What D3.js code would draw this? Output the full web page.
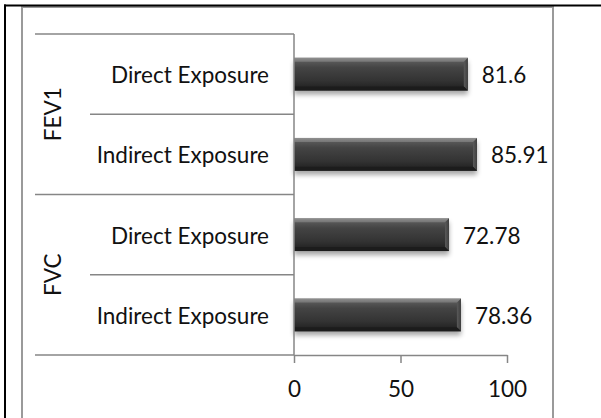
<!DOCTYPE html>
<html>
<head>
<meta charset="utf-8">
<script src="https://cdn.jsdelivr.net/npm/d3@7"></script>
<style>
  html, body { margin: 0; padding: 0; background: #fff; }
  svg { display: block; }
  text { font-family: Lato, "Open Sans", sans-serif; fill: #111; }
</style>
</head>
<body>
<svg id="chart" width="601" height="418"></svg>
<script>
// Spirometry results by exposure type
const groups = ["FEV1", "FVC"];
const categories = ["Direct Exposure", "Indirect Exposure"];
const fev1Values = [81.6, 85.91];
const fvcValues = [72.78, 78.36];
const tickValues = [0, 50, 100];

const rows = [];
groups.forEach((g, gi) => {
  const vals = gi === 0 ? fev1Values : fvcValues;
  categories.forEach((c, ci) => rows.push({ group: g, cat: c, value: vals[ci], key: g + "|" + c }));
});

const svg = d3.select("#chart");
const W = 601, H = 418;
const fontSize = 22.5;

// frame
svg.append("rect").attr("x", 22).attr("y", 7).attr("width", 531).attr("height", H)
  .attr("fill", "none").attr("stroke", "#9a9a9a").attr("stroke-width", 2);
svg.append("line").attr("x1", 4).attr("x2", W).attr("y1", 5.5).attr("y2", 5.5)
  .attr("stroke", "#000").attr("stroke-width", 2);
svg.append("line").attr("x1", 5).attr("x2", 5).attr("y1", 4.5).attr("y2", H)
  .attr("stroke", "#000").attr("stroke-width", 2);

const x = d3.scaleLinear().domain([0, 100]).range([294, 507]);
const y = d3.scaleBand().domain(rows.map(d => d.key)).range([34, 355])
  .paddingInner(0.59).paddingOuter(0.295);
const step = y.step();
const gap = (step - y.bandwidth()) / 2;

const defs = svg.append("defs");
const grad = defs.append("linearGradient").attr("id", "barGrad")
  .attr("x1", 0).attr("x2", 0).attr("y1", 0).attr("y2", 1);
[[0, "#858585"], [0.1, "#5a5a5a"], [0.3, "#444444"], [0.7, "#333333"], [0.9, "#242424"], [1, "#383838"]]
  .forEach(([o, c]) => grad.append("stop").attr("offset", o).attr("stop-color", c));
const endGrad = defs.append("linearGradient").attr("id", "endGrad")
  .attr("x1", 0).attr("x2", 1).attr("y1", 0).attr("y2", 0);
[[0, "#5a5a5a"], [1, "#3e3e3e"]]
  .forEach(([o, c]) => endGrad.append("stop").attr("offset", o).attr("stop-color", c));
defs.append("filter").attr("id", "shadow").attr("x", "-10%").attr("y", "-50%")
  .attr("width", "120%").attr("height", "200%")
  .append("feGaussianBlur").attr("stdDeviation", 2.5);

// category separators
const lineColor = "#868686";
const sep = svg.append("g").attr("stroke", lineColor).attr("stroke-width", 1.5);
rows.forEach((d, i) => {
  const top = y(d.key) - gap;
  sep.append("line").attr("x1", i % 2 === 0 ? 35 : 90).attr("x2", x(0))
    .attr("y1", top).attr("y2", top);
});
const bottom = y(rows[rows.length - 1].key) + y.bandwidth() + gap;
sep.append("line").attr("x1", 35).attr("x2", x(0)).attr("y1", bottom).attr("y2", bottom);

// bars
const b = 4;
const bars = svg.append("g").selectAll("g").data(rows).join("g");
bars.append("rect")
  .attr("x", x(0)).attr("y", d => y(d.key) + 4)
  .attr("width", d => x(d.value) - x(0)).attr("height", y.bandwidth())
  .attr("fill", "#000").attr("opacity", 0.35).attr("filter", "url(#shadow)");
bars.append("rect")
  .attr("x", x(0)).attr("y", d => y(d.key))
  .attr("width", d => x(d.value) - x(0)).attr("height", y.bandwidth())
  .attr("fill", "url(#barGrad)");
bars.append("polygon").attr("fill", "url(#endGrad)")
  .attr("points", d => {
    const x1 = x(d.value), y0 = y(d.key), h = y.bandwidth();
    return [[x1 - b, y0 + b], [x1, y0], [x1, y0 + h], [x1 - b, y0 + h - b]].join(" ");
  });
bars.append("polygon").attr("fill", "#9a9a9a").attr("opacity", 0.5)
  .attr("points", d => {
    const x0 = x(0), x1 = x(d.value), y0 = y(d.key);
    return [[x0, y0], [x1, y0], [x1 - b, y0 + b], [x0, y0 + b]].join(" ");
  });
bars.append("polygon").attr("fill", "#1c1c1c")
  .attr("points", d => {
    const x0 = x(0), x1 = x(d.value), y1 = y(d.key) + y.bandwidth();
    return [[x0, y1], [x1, y1], [x1 - b, y1 - b], [x0, y1 - b]].join(" ");
  });

// value labels
svg.append("g").selectAll("text").data(rows).join("text")
  .attr("x", d => x(d.value) + 14).attr("y", d => y(d.key) + y.bandwidth() / 2 + 1)
  .attr("dy", "0.35em").attr("font-size", fontSize)
  .text(d => d.value);

// category labels
svg.append("g").selectAll("text").data(rows).join("text")
  .attr("x", 269).attr("y", d => y(d.key) + y.bandwidth() / 2 + 1)
  .attr("dy", "0.35em").attr("text-anchor", "end").attr("font-size", fontSize)
  .text(d => d.cat);

// group labels
groups.forEach(g => {
  const ks = rows.filter(d => d.group === g).map(d => d.key);
  const cy = (y(ks[0]) - gap + y(ks[ks.length - 1]) + y.bandwidth() + gap) / 2;
  svg.append("text").attr("transform", `translate(53,${cy}) rotate(-90)`)
    .attr("text-anchor", "middle").attr("dy", "0.35em").attr("font-size", fontSize)
    .text(g);
});

// value axis
svg.append("line").attr("x1", x(0)).attr("x2", x(0)).attr("y1", 34).attr("y2", bottom)
  .attr("stroke", lineColor).attr("stroke-width", 1.5);
const xAxis = svg.append("g").attr("transform", `translate(0,${bottom})`)
  .call(d3.axisBottom(x).tickValues(tickValues).tickSize(8).tickSizeOuter(0).tickPadding(18));
xAxis.selectAll("path, line").attr("stroke", lineColor).attr("stroke-width", 1.5);
xAxis.selectAll("text").attr("font-size", fontSize).attr("font-family", "Lato, sans-serif").attr("fill", "#111");
</script>
</body>
</html>
